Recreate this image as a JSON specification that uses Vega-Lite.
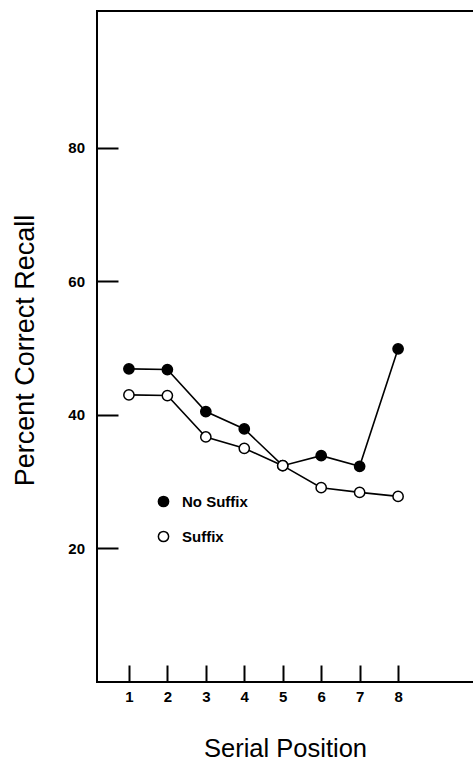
{
  "$schema": "https://vega.github.io/schema/vega-lite/v6.json",
  "autosize": {"type": "none"},
  "padding": {"left": 97, "top": 11, "right": 0, "bottom": 80},
  "width": 378,
  "height": 671,
  "background": "white",
  "config": {
    "view": {"stroke": "black", "strokeWidth": 2},
    "font": "Liberation Sans",
    "axis": {
      "domain": false,
      "grid": false,
      "tickColor": "black",
      "tickWidth": 2,
      "labelColor": "black",
      "titleColor": "black",
      "labelFont": "Liberation Sans",
      "titleFont": "Liberation Sans",
      "labelFontSize": 15,
      "labelFontWeight": "bold",
      "titleFontWeight": "normal"
    }
  },
  "data": {
    "values": [
      {"position": 1, "recall": 46.9, "condition": "No Suffix"},
      {"position": 2, "recall": 46.8, "condition": "No Suffix"},
      {"position": 3, "recall": 40.5, "condition": "No Suffix"},
      {"position": 4, "recall": 37.9, "condition": "No Suffix"},
      {"position": 5, "recall": 32.4, "condition": "No Suffix"},
      {"position": 6, "recall": 33.9, "condition": "No Suffix"},
      {"position": 7, "recall": 32.3, "condition": "No Suffix"},
      {"position": 8, "recall": 49.9, "condition": "No Suffix"},
      {"position": 1, "recall": 43.0, "condition": "Suffix"},
      {"position": 2, "recall": 42.9, "condition": "Suffix"},
      {"position": 3, "recall": 36.7, "condition": "Suffix"},
      {"position": 4, "recall": 35.0, "condition": "Suffix"},
      {"position": 5, "recall": 32.4, "condition": "Suffix"},
      {"position": 6, "recall": 29.1, "condition": "Suffix"},
      {"position": 7, "recall": 28.4, "condition": "Suffix"},
      {"position": 8, "recall": 27.8, "condition": "Suffix"}
    ]
  },
  "encoding": {
    "x": {
      "field": "position",
      "type": "quantitative",
      "scale": {"domain": [0.17, 10.0], "nice": false, "zero": false},
      "axis": {
        "title": "Serial Position",
        "values": [1, 2, 3, 4, 5, 6, 7, 8],
        "format": "d",
        "tickSize": -17,
        "labelPadding": 24,
        "titleFontSize": 25.5,
        "titleX": 188,
        "titleY": 74,
        "titleBaseline": "alphabetic",
        "titleAnchor": "middle"
      }
    },
    "y": {
      "field": "recall",
      "type": "quantitative",
      "scale": {"domain": [0, 100.5], "nice": false},
      "axis": {
        "title": "Percent Correct Recall",
        "values": [20, 40, 60, 80],
        "tickSize": -21,
        "labelPadding": 33.5,
        "titleFontSize": 27,
        "titleX": -64,
        "titleY": 339,
        "titleBaseline": "alphabetic",
        "titleAnchor": "middle"
      }
    }
  },
  "layer": [
    {
      "mark": {"type": "line", "color": "black", "strokeWidth": 1.6},
      "encoding": {"detail": {"field": "condition"}}
    },
    {
      "mark": {"type": "point", "filled": true, "size": 105, "stroke": "black", "strokeWidth": 1.5, "opacity": 1},
      "encoding": {
        "fill": {
          "field": "condition",
          "type": "nominal",
          "scale": {"domain": ["No Suffix", "Suffix"], "range": ["black", "white"]},
          "legend": {
            "orient": "none",
            "legendX": 59,
            "legendY": 483,
            "title": null,
            "symbolType": "circle",
            "symbolSize": 105,
            "symbolStrokeColor": "black",
            "symbolStrokeWidth": 1.5,
            "symbolOpacity": 1,
            "labelFont": "Liberation Sans",
            "labelFontSize": 15,
            "labelFontWeight": "bold",
            "labelColor": "black",
            "labelOffset": 11,
            "rowPadding": 18
          }
        }
      }
    }
  ]
}
